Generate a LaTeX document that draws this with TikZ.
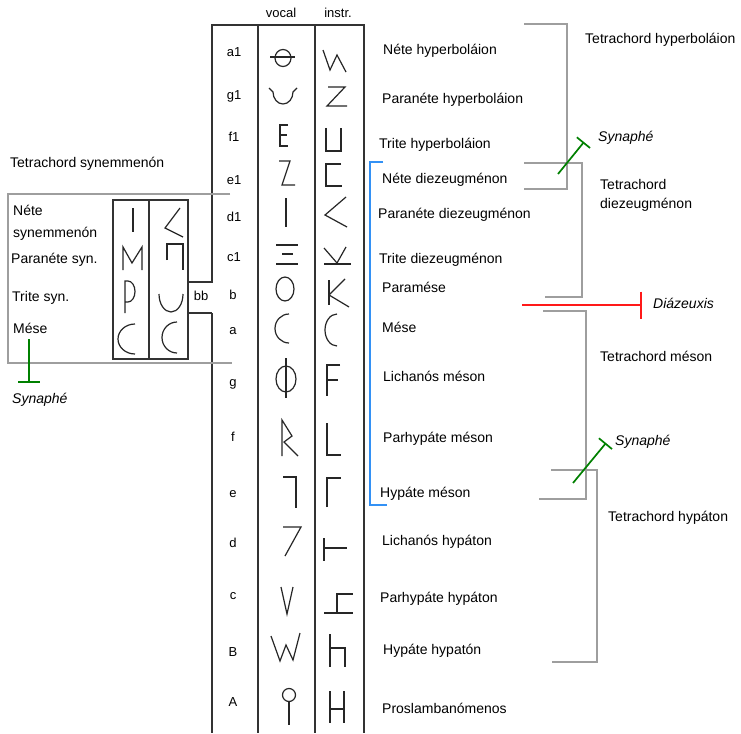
\documentclass[tikz,border=0pt]{standalone}
\usepackage{fontspec}
\setmainfont{Liberation Sans}
\usetikzlibrary{arrows.meta}

\begin{document}
\begin{tikzpicture}[x=1pt,y=-1pt,
    grid/.style={line width=1.4pt, black!80},
    gl/.style={line width=1.2pt, black!85},
    brk/.style={line width=1.4pt, black!38},
    lbl/.style={font=\fontsize{13}{15}\selectfont, inner sep=0pt, text height=9.4pt, text depth=0pt},
    nm/.style={anchor=west, font=\fontsize{14}{16}\selectfont, inner sep=0pt, text height=10pt, text depth=0pt},
    syn/.style={nm, font=\fontsize{14}{16}\selectfont\itshape},
    synline/.style={line width=1.7pt, green!50!black},
  ]
  \path[use as bounding box, fill=white] (0,0) rectangle (741,733);

  % table
  \draw[grid] (212,313) -- (212,733);
  \draw[grid] (188,282) -- (212,282) -- (212,25) -- (364,25) -- (364,733);
  \draw[grid] (188,313) -- (212,313);
  \draw[grid] (258,25) -- (258,733);
  \draw[grid] (315,25) -- (315,733);
  \node[lbl] (hv) at (281,13) {vocal};
  \node[lbl] (hi) at (338,13) {instr.};

  \node[lbl] (ra1) at (234,52) {a1};
  \node[lbl] (rg1) at (234,95) {g1};
  \node[lbl] (rf1) at (234,137) {f1};
  \node[lbl] (re1) at (234,180) {e1};
  \node[lbl] (rd1) at (234,217) {d1};
  \node[lbl] (rc1) at (234,257) {c1};
  \node[lbl] (rb) at (233,295) {b};
  \node[lbl] (ra) at (233,330) {a};
  \node[lbl] (rg) at (233,382) {g};
  \node[lbl] (rf) at (233,437) {f};
  \node[lbl] (re) at (233,493) {e};
  \node[lbl] (rd) at (233,543) {d};
  \node[lbl] (rc) at (233,595) {c};
  \node[lbl] (rB) at (233,652) {B};
  \node[lbl] (rA) at (233,702) {A};
  \node[lbl] (rbb) at (201,296) {bb};

  % vocal signs
  \draw[gl] (283,58) ellipse[x radius=8, y radius=8.5];
  \draw[gl] (270,57) -- (295,57);
  \draw[gl] (269,88) -- (273,92) arc[start angle=180, end angle=0, x radius=10, y radius=12] -- (297,88);
  \draw[gl] (288,125) -- (280,125) -- (280,146) -- (288,146);
  \draw[gl] (280,135) -- (287,135);
  \draw[gl] (279,161) -- (290,161) -- (282,185) -- (295,185);
  \draw[gl] (286,198) -- (286,227);
  \draw[gl] (276,245) -- (298,245);
  \draw[gl] (282,254) -- (293,254);
  \draw[gl] (276,264) -- (298,264);
  \draw[gl] (285,289) ellipse[x radius=9, y radius=12];
  \draw[gl] (289,343) arc[start angle=90, end angle=270, x radius=14, y radius=14.5];
  \draw[gl] (286,379) ellipse[x radius=10, y radius=13];
  \draw[gl] (286,358) -- (286,398);
  \draw[gl] (282,456) -- (282,420) -- (292,436) -- (284,442) -- (298,456);
  \draw[gl] (283,477) -- (296,477) -- (296,508);
  \draw[gl] (283,527) -- (301,527) -- (285,556);
  \draw[gl] (281,587) -- (287,614) -- (293,587);
  \draw[gl] (271,636) -- (280,661) -- (286,645) -- (293,660) -- (300,633);
  \draw[gl] (289,695) circle[radius=6.5];
  \draw[gl] (289,701.5) -- (289,725);

  % instrumental signs
  \draw[gl] (323,50) -- (330,70) -- (337,55) -- (346,72);
  \draw[gl] (328,87) -- (345,87) -- (327,106) -- (347,106);
  \draw[gl] (326,128) -- (326,151) -- (341,151) -- (341,128);
  \draw[gl] (341,164) -- (326,164) -- (326,186) -- (342,186);
  \draw[gl] (346,197) -- (325,215) -- (347,227);
  \draw[gl] (324,248) -- (337,263) -- (346,247);
  \draw[gl] (324,264) -- (351,264);
  \draw[gl] (329,280) -- (329,305);
  \draw[gl] (345,279) -- (329,295) -- (349,307);
  \draw[gl] (337,346) arc[start angle=90, end angle=270, x radius=12, y radius=16];
  \draw[gl] (340,365) -- (327,365) -- (327,396);
  \draw[gl] (327,380) -- (338,380);
  \draw[gl] (327,423) -- (327,455) -- (341,455);
  \draw[gl] (327,507) -- (327,478) -- (341,478);
  \draw[gl] (324,538) -- (324,561);
  \draw[gl] (324,548) -- (347,548);
  \draw[gl] (324,613) -- (353,613);
  \draw[gl] (337,613) -- (337,594) -- (353,594);
  \draw[gl] (330,634) -- (330,667);
  \draw[gl] (330,648) -- (345,648) -- (345,667);
  \draw[gl] (330,691) -- (330,723);
  \draw[gl] (344,691) -- (344,723);
  \draw[gl] (330,709) -- (344,709);

  % synemmenon
  \draw[brk] (230,194) -- (8,194) -- (8,363) -- (232,363);
  \draw[grid] (113,200) rectangle (188,359);
  \draw[grid] (149,200) -- (149,359);
  \draw[gl] (133,208) -- (133,232);
  \draw[gl] (123,270) -- (123,247) -- (132,263) -- (142,247) -- (142,270);
  \draw[gl] (125,313) -- (125,281) -- (128,281) arc[start angle=270, end angle=450, x radius=7, y radius=10.5] -- (125,302);
  \draw[gl] (135,354) arc[start angle=90, end angle=270, x radius=17, y radius=15];
  \draw[gl] (180,208) -- (165,228) -- (183,237);
  \draw[gl] (167,260) -- (167,244) -- (183,244) -- (183,270);
  \draw[gl] (159,294) arc[start angle=180, end angle=0, x radius=12, y radius=18];
  \draw[gl] (177,353) arc[start angle=90, end angle=270, x radius=15, y radius=15.5];

  \node[nm] (tsyn) at (10,162) {Tetrachord synemmenón};
  \node[nm] (nsyn1) at (13,210) {Néte};
  \node[nm] (nsyn2) at (13,232) {synemmenón};
  \node[nm] (psyn) at (11,258) {Paranéte syn.};
  \node[nm] (tsyn2) at (12,296) {Trite syn.};
  \node[nm] (msyn) at (13,328) {Mése};
  \coordinate (s3a) at (29,339);
  \coordinate (s3b) at (29,382);
  \draw[synline] (s3a) -- (s3b);
  \draw[synline, line width=2pt] ([xshift=-11pt]s3b) -- ([xshift=11pt]s3b);
  \node[syn] (syn3) at (12,398) {Synaphé};

  % names
  \node[nm] (n1) at (383,50) {Néte hyperboláion};
  \node[nm] (n2) at (382,99) {Paranéte hyperboláion};
  \node[nm] (n3) at (379,143) {Trite hyperboláion};
  \node[nm] (n4) at (382,178) {Néte diezeugménon};
  \node[nm] (n5) at (378,213) {Paranéte diezeugménon};
  \node[nm] (n6) at (379,258) {Trite diezeugménon};
  \node[nm] (n7) at (382,287) {Paramése};
  \node[nm] (n8) at (382,327) {Mése};
  \node[nm] (n9) at (383,376) {Lichanós méson};
  \node[nm] (n10) at (383,437) {Parhypáte méson};
  \node[nm] (n11) at (380,492) {Hypáte méson};
  \node[nm] (n12) at (382,540) {Lichanós hypáton};
  \node[nm] (n13) at (380,597) {Parhypáte hypáton};
  \node[nm] (n14) at (383,649) {Hypáte hypatón};
  \node[nm] (n15) at (382,708) {Proslambanómenos};

  % tetrachords
  \definecolor{diezblue}{RGB}{51,145,245}
  \draw[line width=1.4pt, diezblue] (383,162) -- (370,162) -- (370,505) -- (387,505);
  \draw[brk] (524,24) -- (567,24) -- (567,189) -- (524,189);
  \draw[brk] (524,163) -- (582,163) -- (582,297) -- (545,297);
  \draw[brk] (543,311) -- (586,311) -- (586,499) -- (539,499);
  \draw[brk] (551,470) -- (597,470) -- (597,662) -- (552,662);
  \node[nm] (thyp) at (585,39) {Tetrachord hyperboláion};
  \node[anchor=west, align=left, inner sep=0pt, font=\fontsize{14}{19}\selectfont] (tdie) at (600,195) {Tetrachord\\diezeugménon};
  \node[nm] (tmes) at (600,356) {Tetrachord méson};
  \node[nm] (thypa) at (608,516) {Tetrachord hypáton};

  \coordinate (s1a) at (558,174);
  \coordinate (s1b) at (584,142);
  \draw[synline, -{Bar[width=17pt]}] (s1a) -- (s1b);
  \node[syn] (syn1) at (598,137) {Synaphé};
  \coordinate (s2a) at (573,483);
  \coordinate (s2b) at (606,443);
  \draw[synline, -{Bar[width=17pt]}] (s2a) -- (s2b);
  \node[syn] (syn2) at (615,440) {Synaphé};

  \coordinate (da) at (522,305);
  \coordinate (db) at (642,305);
  \draw[line width=1.8pt, red!90!white, -{Bar[width=27pt]}] (da) -- (db);
  \node[syn] (dia) at (653,303) {Diázeuxis};
\end{tikzpicture}
\end{document}
